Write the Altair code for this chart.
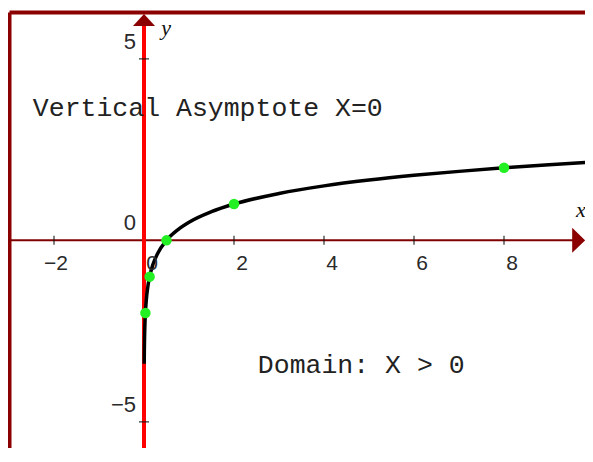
import altair as alt
import pandas as pd

# ---- data ----
curve_x = [0.0045, 0.007, 0.01, 0.015, 0.02, 0.03125, 0.05, 0.08, 0.125, 0.2, 0.3, 0.5,
           0.75, 1, 1.5, 2, 3, 4, 5, 6, 7, 8, 9, 10]
curve_y = [-3.4, -3.08, -2.82, -2.53, -2.32, -2.0, -1.66, -1.32, -1.0, -0.66, -0.37, 0.0,
           0.29, 0.5, 0.79, 1.0, 1.29, 1.5, 1.66, 1.79, 1.9, 2.0, 2.08, 2.16]

pts_x = [0.03125, 0.125, 0.5, 2, 8]
pts_y = [-2, -1, 0, 1, 2]

xtick_vals = [-2, 2, 4, 6, 8]
xlabel_vals = [-2, 0, 2, 4, 6, 8]
ytick_vals = [5, -5]
ylabel_vals = [5, 0, -5]

ann_text = ["Vertical Asymptote X=0", "Domain: X > 0"]
ann_x = [-2.47, 2.53]
ann_y = [3.65, -3.43]

axis_names = ["x", "y"]
axis_name_x = [9.71, 0.49]
axis_name_y = [0.84, 5.85]

XMIN, XMAX = -3.0, 9.8
YMIN, YMAX = -5.72, 6.29

xscale = alt.Scale(domain=[XMIN, XMAX], nice=False, zero=False)
yscale = alt.Scale(domain=[YMIN, YMAX], nice=False, zero=False)
xaxis = alt.Axis(orient="top", labels=False, ticks=False, grid=False,
                 domainColor="#8B0000", domainWidth=4, title=None)
yaxis = alt.Axis(orient="left", labels=False, ticks=False, grid=False,
                 domainColor="#8B0000", domainWidth=4, title=None)


def X(f="x"):
    return alt.X(f, type="quantitative", scale=xscale, axis=xaxis)


def Y(f="y"):
    return alt.Y(f, type="quantitative", scale=yscale, axis=yaxis)


def fmt(v):
    return str(v) if v >= 0 else "\u2212" + str(-v)


curve_df = pd.DataFrame({"x": curve_x, "y": curve_y})
pts_df = pd.DataFrame({"x": pts_x, "y": pts_y})
xt_df = pd.DataFrame({"x": xtick_vals, "y": [0] * len(xtick_vals)})
xl_df = pd.DataFrame({"x": xlabel_vals, "y": [0] * len(xlabel_vals),
                      "t": [fmt(v) for v in xlabel_vals]})
yt_df = pd.DataFrame({"x": [0] * len(ytick_vals), "y": ytick_vals})
yl_df = pd.DataFrame({"x": [0] * len(ylabel_vals), "y": ylabel_vals,
                      "t": [fmt(v) for v in ylabel_vals]})
ann_df = pd.DataFrame({"x": ann_x, "y": ann_y, "t": ann_text})
names_df = pd.DataFrame({"x": axis_name_x, "y": axis_name_y, "t": axis_names})

yline_df = pd.DataFrame({"x": [0], "y": [YMIN], "y2": [6.0]})
xline_df = pd.DataFrame({"x": [XMIN], "x2": [9.55], "y": [0]})
yarrow_df = pd.DataFrame({"x": [0], "y": [6.07]})
xarrow_df = pd.DataFrame({"x": [9.66], "y": [0]})

yline = alt.Chart(yline_df).mark_rule(color="#FF0000", strokeWidth=4).encode(
    x=X(), y=Y(), y2="y2")
xline = alt.Chart(xline_df).mark_rule(color="#800000", strokeWidth=2).encode(
    x=X(), x2="x2", y=Y())
yarrow = alt.Chart(yarrow_df).mark_point(
    shape="M0,-0.545L1,0.545L-1,0.545Z", size=484, filled=True, opacity=1,
    color="#8B0000").encode(x=X(), y=Y())
xarrow = alt.Chart(xarrow_df).mark_point(
    shape="M-0.52,-1L0.52,0L-0.52,1Z", size=625, filled=True, opacity=1,
    color="#8B0000").encode(x=X(), y=Y())

xticks = alt.Chart(xt_df).mark_tick(orient="vertical", size=9, thickness=1.5,
                                    color="#111111").encode(x=X(), y=Y())
yticks = alt.Chart(yt_df).mark_tick(orient="horizontal", size=10, thickness=1.5,
                                    color="#111111").encode(x=X(), y=Y())

xlabels = alt.Chart(xl_df).mark_text(align="right", baseline="alphabetic", dx=14, dy=30,
                                     font="Liberation Sans", fontSize=21,
                                     color="#2a2a2a").encode(x=X(), y=Y(), text="t:N")
ylabels = alt.Chart(yl_df).mark_text(align="right", baseline="alphabetic", dx=-8, dy=-10,
                                     font="Liberation Sans", fontSize=22,
                                     color="#2a2a2a").encode(x=X(), y=Y(), text="t:N")

curve = alt.Chart(curve_df).mark_line(color="#000000", strokeWidth=3.5, clip=True,
                                      interpolate="monotone").encode(x=X(), y=Y())
points = alt.Chart(pts_df).mark_point(shape="circle", filled=True, opacity=1, size=110,
                                      color="#22F022").encode(x=X(), y=Y())

ann = alt.Chart(ann_df).mark_text(align="left", baseline="middle",
                                  font="Liberation Mono", fontSize=26.5,
                                  color="#222222").encode(x=X(), y=Y(), text="t:N")
names = alt.Chart(names_df).mark_text(align="center", baseline="middle",
                                      font="Liberation Serif", fontStyle="italic",
                                      fontSize=22, color="#111111").encode(
    x=X(), y=Y(), text="t:N")

chart = alt.layer(
    xline, yline, xarrow, yarrow, xticks, yticks, curve, points,
    xlabels, ylabels, ann, names
).properties(
    width=576, height=436,
    autosize=alt.AutoSizeParams(type="none"),
    padding={"left": 1, "top": 4, "right": 0, "bottom": 0},
    background="white",
).configure_view(stroke=None)

chart.save("out.html", embed_options={"renderer": "svg", "actions": False})
